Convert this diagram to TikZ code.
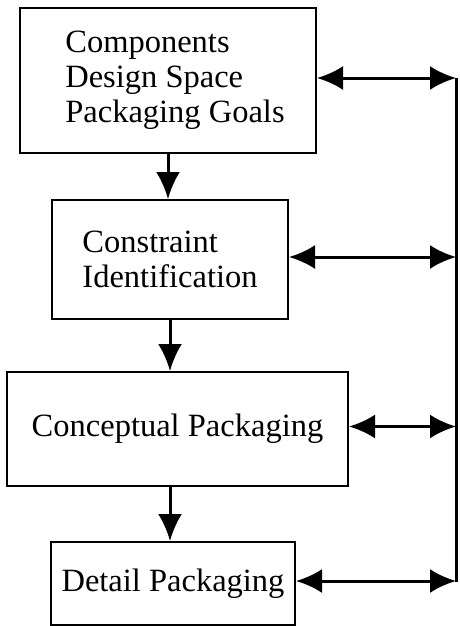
\documentclass[tikz,border=0pt]{standalone}
\usepackage{fontspec}
\setmainfont{Liberation Serif}
\usetikzlibrary{arrows.meta}

\begin{document}
\begin{tikzpicture}[x=1pt,y=-1pt,
  stage/.style={draw,line width=2pt,align=left,inner sep=0pt,
    font=\fontsize{32.5}{35}\selectfont},
  flow/.style={line width=3pt,-{Latex[length=27pt,width=24pt]}},
  link/.style={line width=3pt,
    {Latex[length=26pt,width=24pt]}-{Latex[length=26pt,width=24pt]}}]
  \useasboundingbox (0,0) rectangle (459,626);

  % the four stages
  \node[stage,minimum width=296pt,minimum height=145pt] (goals) at (168,80.5)
    {\hspace*{14pt}Components\\\hspace*{14pt}Design Space\\\hspace*{14pt}Packaging Goals};
  \node[stage,minimum width=236pt,minimum height=119pt] (ident) at (170,259.5)
    {Constraint\\Identification};
  \node[stage,minimum width=341pt,minimum height=114pt] (concept) at (177.5,429)
    {Conceptual Packaging};
  \node[stage,minimum width=244pt,minimum height=83pt] (detail) at (173,583.5)
    {\raisebox{5pt}{Detail Packaging}};

  % feedback bus on the right
  \coordinate (bus) at (456,0);

  \draw[flow] (goals.south) -- (goals.south |- ident.north);
  \draw[flow] (ident.south) -- (ident.south |- concept.north);
  \draw[flow] (ident.south |- concept.south) -- (ident.south |- detail.north);

  \draw[line width=3pt] ([yshift=2.5pt]bus |- goals.east) -- ([yshift=2pt]bus |- detail.east);
  \foreach \n in {goals,ident,concept,detail}
    \draw[link] ([yshift=2.5pt]\n.east) -- ([yshift=2.5pt]\n.east -| bus);
\end{tikzpicture}
\end{document}
